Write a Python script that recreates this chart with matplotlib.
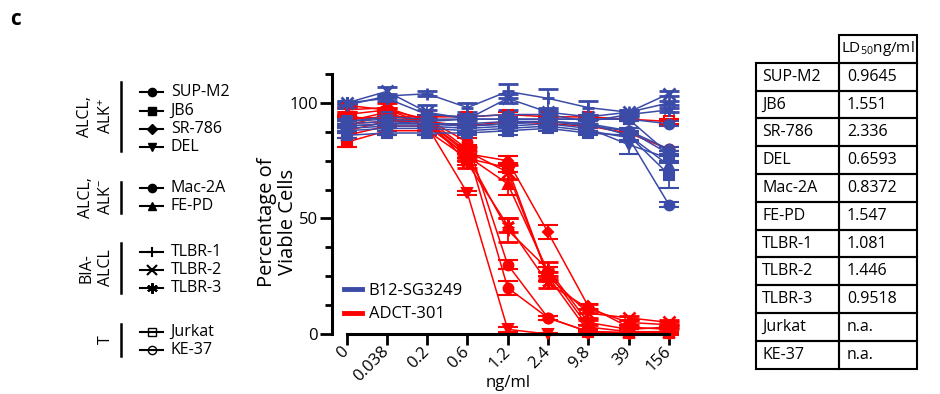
import numpy as np
import matplotlib
matplotlib.use('Agg')
import matplotlib.pyplot as plt
from matplotlib.patches import Rectangle

plt.rcParams['font.family'] = ['Open Sans', 'DejaVu Sans']
plt.rcParams['mathtext.default'] = 'regular'

# concentrations (categorical axis)
conc = ['0', '0.038', '0.2', '0.6', '1.2', '2.4', '9.8', '39', '156']

cells = ['SUP-M2', 'JB6', 'SR-786', 'DEL', 'Mac-2A', 'FE-PD',
         'TLBR-1', 'TLBR-2', 'TLBR-3', 'Jurkat', 'KE-37']
ld50 = ['0.9645', '1.551', '2.336', '0.6593', '0.8372', '1.547',
        '1.081', '1.446', '0.9518', 'n.a.', 'n.a.']

# ADCT-301 (red)
adct_sup = [94, 93, 93, 83, 30, 7, 1, 0.5, 0.5]
adct_jb6 = [83, 88, 88, 76, 72, 25, 1, 0.5, 0.5]
adct_sr = [90, 95, 92, 78, 75, 44, 12, 3, 2]
adct_del = [92, 96, 90, 61, 2, 0, 0, 0, 0]
adct_mac = [88, 92, 93, 80, 20, 7, 1, 0.5, 0.5]
adct_fe = [86, 90, 90, 77, 65, 27, 3, 1, 1]
adct_t1 = [95, 97, 91, 77, 45, 28, 5, 2, 3]
adct_t2 = [97, 98, 92, 79, 70, 25, 9, 7, 5]
adct_t3 = [99, 97, 93, 74, 47, 22, 11, 5, 4]
adct_jur = [93, 94, 94, 94, 95, 94, 94, 93, 92]
adct_ke = [91, 92, 92, 90, 92, 91, 90, 87, 80]

adct_sup_e = [1, 1, 2, 2, 2, 1, 0.5, 0.5, 0.5]
adct_jb6_e = [2, 2, 2, 3, 2, 2, 0.5, 0.5, 0.5]
adct_sr_e = [1, 1, 2, 2, 2, 3, 1, 1, 1]
adct_del_e = [1, 1, 2, 1, 1, 0.5, 0.5, 0.5, 0.5]
adct_mac_e = [1, 1, 1, 2, 3, 1, 0.5, 0.5, 0.5]
adct_fe_e = [1, 1, 2, 2, 5, 2, 1, 1, 1]
adct_t1_e = [1, 1, 2, 2, 5, 3, 1, 1, 1]
adct_t2_e = [1, 2, 2, 2, 3, 2, 2, 1, 1]
adct_t3_e = [1, 1, 2, 2, 3, 2, 2, 1, 1]
adct_jur_e = [1, 1, 1, 1, 1, 1, 1, 1, 1]
adct_ke_e = [1, 1, 1, 1, 1, 1, 1, 1, 1]

# B12-SG3249 (blue)
b12_sup = [92, 93, 92, 93, 93, 93, 93, 93, 91]
b12_jb6 = [86, 87, 87, 87, 88, 89, 87, 86, 69]
b12_sr = [90, 91, 91, 90, 91, 92, 90, 88, 78]
b12_del = [89, 90, 90, 89, 90, 91, 89, 82, 76]
b12_mac = [88, 89, 89, 88, 89, 90, 88, 85, 56]
b12_fe = [91, 92, 91, 90, 91, 92, 91, 86, 73]
b12_t1 = [99, 103, 104, 98, 105, 102, 98, 96, 100]
b12_t2 = [100, 105, 96, 93, 102, 96, 94, 96, 104]
b12_t3 = [100, 102, 95, 94, 95, 95, 92, 95, 97]
b12_jur = [92, 94, 93, 93, 93, 93, 93, 93, 78]
b12_ke = [90, 91, 91, 91, 92, 92, 91, 88, 80]

b12_sup_e = [1, 1, 1, 1, 1, 1, 1, 1, 1]
b12_jb6_e = [1, 1, 1, 1, 2, 1, 1, 2, 6]
b12_sr_e = [1, 1, 1, 1, 1, 1, 1, 1, 1]
b12_del_e = [1, 1, 1, 1, 1, 1, 1, 4, 2]
b12_mac_e = [1, 1, 1, 1, 1, 1, 1, 2, 1]
b12_fe_e = [1, 1, 1, 1, 1, 1, 1, 2, 2]
b12_t1_e = [1, 1, 1, 2, 3, 4, 3, 1, 1]
b12_t2_e = [1, 2, 1, 1, 2, 1, 1, 1, 1]
b12_t3_e = [1, 1, 4, 1, 2, 1, 1, 1, 1]
b12_jur_e = [1, 1, 1, 1, 1, 1, 1, 1, 1]
b12_ke_e = [1, 1, 1, 1, 1, 1, 1, 1, 1]

adct = [adct_sup, adct_jb6, adct_sr, adct_del, adct_mac, adct_fe,
        adct_t1, adct_t2, adct_t3, adct_jur, adct_ke]
adct_err = [adct_sup_e, adct_jb6_e, adct_sr_e, adct_del_e, adct_mac_e, adct_fe_e,
            adct_t1_e, adct_t2_e, adct_t3_e, adct_jur_e, adct_ke_e]
b12 = [b12_sup, b12_jb6, b12_sr, b12_del, b12_mac, b12_fe,
       b12_t1, b12_t2, b12_t3, b12_jur, b12_ke]
b12_err = [b12_sup_e, b12_jb6_e, b12_sr_e, b12_del_e, b12_mac_e, b12_fe_e,
           b12_t1_e, b12_t2_e, b12_t3_e, b12_jur_e, b12_ke_e]

markers = ['o', 's', 'D', 'v', 'o', '^', '+', 'x', (6, 2, 0), 's', 'o']
msizes = [7, 7, 5.5, 7, 7, 7, 9, 9, 9, 7, 7]
filled = [True] * 9 + [False, False]

BLUE = '#3b4ba8'
RED = '#ff0000'

fig = plt.figure(figsize=(9.4, 3.94), dpi=100)

# overlay in pixel coordinates for legend groups and table
ov = fig.add_axes([0, 0, 1, 1])
ov.set_xlim(0, 940)
ov.set_ylim(394, 0)
ov.axis('off')

ax = fig.add_axes([332 / 940, 60 / 394, 351.4 / 940, 259.9 / 394])
x = np.arange(len(conc))

for vals, errs, color in [(adct, adct_err, RED), (b12, b12_err, BLUE)]:
    for k in range(len(cells)):
        mew = 2.0 if markers[k] in ('+', 'x', (6, 2, 0)) else 1.5
        ax.errorbar(x, vals[k], yerr=errs[k], color=color, lw=1.1,
                    marker=markers[k], ms=msizes[k], mew=mew,
                    mfc=color if filled[k] else 'none', mec=color,
                    capsize=7, capthick=1.3, elinewidth=1.3, clip_on=False)

ax.set_xlim(-0.36, 8.36)
ax.set_ylim(0, 112.5)
ax.set_xticks(x)
ax.set_xticklabels(conc, rotation=45, ha='right', va='center', rotation_mode='anchor', fontsize=12)
ax.set_yticks([0, 50, 100])
ax.set_yticklabels(['0', '50', '100'], fontsize=12)
ax.set_yticks(np.arange(0, 113, 12.5), minor=True)
ax.tick_params(axis='y', which='major', length=9, width=2, pad=1)
ax.tick_params(axis='y', which='minor', length=5, width=2)
ax.tick_params(axis='x', length=8, width=2, pad=3)
for s in ['top', 'right']:
    ax.spines[s].set_visible(False)
ax.spines['left'].set_linewidth(2.2)
ax.spines['bottom'].set_linewidth(2.2)
ax.spines['bottom'].set_bounds(0, 8)
ax.patch.set_alpha(0)

ax.text(-0.155, 0.43, 'Percentage of\nViable Cells', transform=ax.transAxes,
        rotation=90, ha='center', va='center', fontsize=14.5, linespacing=1.1)
ov.text(508, 383, 'ng/ml', ha='center', va='center', fontsize=12)

h1, = ax.plot([], [], color=BLUE, lw=3.5)
h2, = ax.plot([], [], color=RED, lw=3.5)
ax.legend([h1, h2], ['B12-SG3249', 'ADCT-301'], loc='lower left',
          bbox_to_anchor=(0.0, 0.0), frameon=False, fontsize=12,
          handlelength=1.1, handletextpad=0.4, labelspacing=0.45, borderaxespad=0.3)

# panel letter
ov.text(10, 19, 'c', fontsize=15, fontweight='bold', ha='left', va='center')

# left marker legend
rows_y = [92.3, 111, 129.3, 147.3, 187.7, 205.7, 251.7, 270, 288.3, 331.7, 350]
groups = [('ALCL,\nALK$^{+}$', 81.7, 150.7, 96),
          ('ALCL,\nALK$^{-}$', 181.7, 212.7, 96),
          ('BIA-\nALCL', 242.7, 293, 96),
          ('T', 324, 356, 106)]
for label, y0, y1, tx in groups:
    ov.plot([121, 121], [y0, y1], color='black', lw=1.8)
    ov.text(tx, (y0 + y1) / 2, label, rotation=90, ha='center', va='center',
            fontsize=11.5, linespacing=1.3, multialignment='center')
for k in range(len(cells)):
    mew = 1.5 if markers[k] in ('+', 'x', (6, 2, 0)) else 1.0
    ov.plot([140, 151.65, 163.3], [rows_y[k]] * 3, color='black', lw=1.5,
            marker=markers[k], markevery=[1], ms=msizes[k] * 0.85, mew=mew,
            mfc='black' if filled[k] else 'none', mec='black')
    ov.text(170.7, rows_y[k], cells[k], ha='left', va='center', fontsize=11.5)

# LD50 table
tx0, tx1, tx2 = 756, 839, 917
ty0, rh = 35, 27.8
ov.add_patch(Rectangle((tx1, ty0), tx2 - tx1, rh, fill=False, lw=1.5, ec='black'))
ov.text(tx1 + 2, ty0 + rh / 2, 'LD$_{50}$ng/ml', ha='left', va='center', fontsize=11)
for k in range(len(cells)):
    yy = ty0 + rh * (k + 1)
    ov.add_patch(Rectangle((tx0, yy), tx1 - tx0, rh, fill=False, lw=1.5, ec='black'))
    ov.add_patch(Rectangle((tx1, yy), tx2 - tx1, rh, fill=False, lw=1.5, ec='black'))
    ov.text(tx0 + 6, yy + rh / 2, cells[k], ha='left', va='center', fontsize=11.5)
    ov.text(tx1 + 8, yy + rh / 2, ld50[k], ha='left', va='center', fontsize=11.5)

fig.savefig('out.png', dpi=100)
